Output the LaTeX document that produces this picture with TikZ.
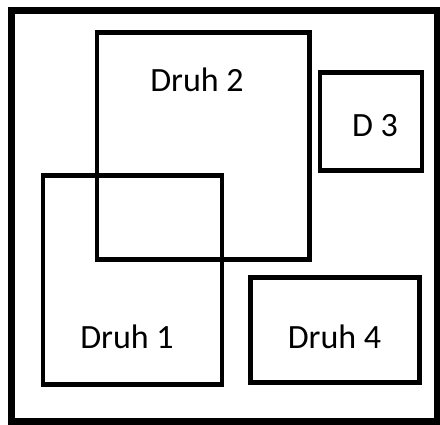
\documentclass[tikz,border=0pt]{standalone}
\usepackage{fontspec}
\setmainfont{Carlito}
\usetikzlibrary{positioning}
\tikzset{
        x=1pt, y=-1pt, % pixel-like units, y down
        every node/.style={inner sep=0pt, outer sep=0pt}, % boxes sized exactly
    }
\tikzstyle{box}=[draw, line width=4.5pt, minimum width=#1]
\tikzstyle{frame}=[draw, line width=7pt]
\tikzstyle{label}=[font=\fontsize{34}{40}\selectfont, text=black]

\begin{document}
\begin{tikzpicture}
    \useasboundingbox (0,0) rectangle (440,424);
    % outer frame
    \node[frame, minimum width=426pt, minimum height=411pt] (outer) at (224,215.5) {};
    % the four boxes
    \node[box=212.5pt, minimum height=227pt] (druh2) at (203.25,146) {};
    \node[box=179pt, minimum height=209pt] (druh1) at (132.5,280) {};
    \node[box=102pt, minimum height=98pt] (d3) at (371,121.5) {};
    \node[box=169pt, minimum height=105pt] (druh4) at (335,330) {};
    % labels
    \node[label] (druh2text) at (197,80) {Druh 2};
    \node[label] (d3text) at (375,126) {D 3};
    \node[label] (druh1text) at (127,337) {Druh 1};
    \node[label] (druh4text) at (334.5,337) {Druh 4};
\end{tikzpicture}
\end{document}
